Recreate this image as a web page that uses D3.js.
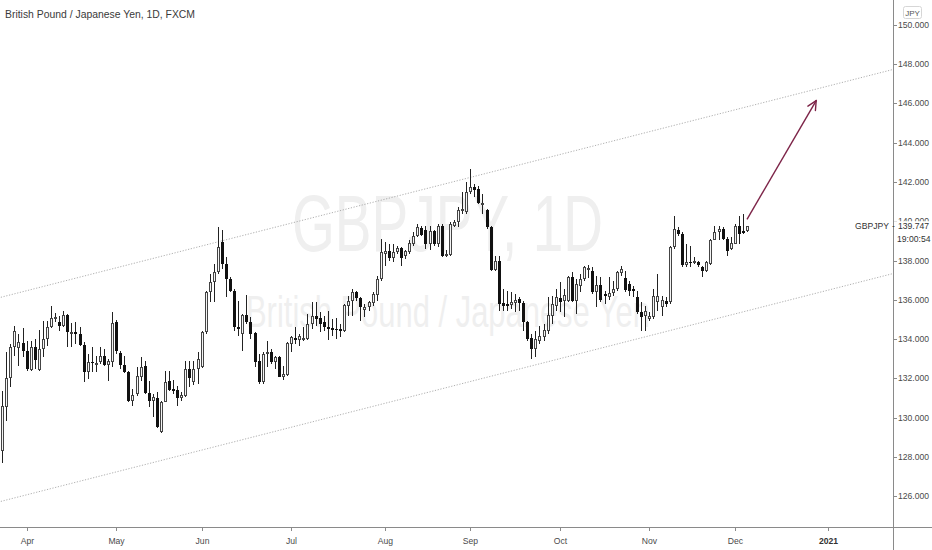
<!DOCTYPE html>
<html><head><meta charset="utf-8">
<script src="https://cdn.jsdelivr.net/npm/d3@7"></script>
<style>
html,body{margin:0;padding:0;background:#fff;}
svg{display:block;}
</style></head>
<body><svg id="c" width="932" height="550"></svg>
<script>
// ---------- DATA ----------
const symbol = "GBPJPY";
const title = "British Pound / Japanese Yen, 1D, FXCM";
const watermark1 = "GBPJPY, 1D";
const watermark2 = "British Pound / Japanese Yen";
const firstBarDate = "2020-03-24";   // daily bars, weekdays only
const lastPrice = 139.747;
const countdown = "19:00:54";

const opens = [128.31,130.52,132.01,133.58,133.54,133.80,133.41,132.44,133.58,132.44,
133.49,134.00,134.60,135.08,134.89,134.65,135.23,134.33,134.38,134.26,
133.70,132.30,132.85,132.75,132.81,133.15,132.69,132.81,134.85,133.29,
132.69,132.34,130.86,131.20,132.08,132.64,131.25,130.86,130.99,129.24,
130.81,131.84,131.45,131.42,130.99,131.11,132.47,131.79,132.47,132.56,
134.34,136.38,136.89,137.40,138.93,137.83,137.06,136.47,134.63,134.26,
135.23,134.85,134.29,132.86,131.79,133.24,133.32,132.81,133.07,132.05,
132.18,133.75,134.04,133.97,133.95,134.00,134.77,135.16,135.07,134.85,
134.63,134.56,134.51,134.51,134.43,135.70,135.92,136.42,136.08,135.48,
135.65,135.82,136.26,137.06,138.34,138.48,138.14,138.42,138.65,138.25,
138.42,138.85,139.27,139.66,139.53,138.85,139.49,138.85,139.78,138.25,
138.30,139.78,139.95,140.51,140.46,141.48,141.74,141.65,140.89,140.58,
139.73,137.52,138.00,135.82,135.79,135.75,135.82,136.04,135.82,134.85,
134.05,133.49,133.92,134.12,134.43,135.19,135.70,136.09,135.96,135.96,
137.18,135.96,136.72,137.06,137.52,137.49,136.38,136.77,136.30,136.13,
136.33,136.55,137.35,137.11,136.81,136.55,136.16,135.36,135.19,135.02,
135.11,135.87,135.65,135.96,135.87,138.68,139.56,139.36,137.79,137.91,
137.86,137.91,137.66,137.45,137.83,139.05,139.44,139.61,139.10,138.59,
138.85,139.78,139.50,139.50];
const highs = [131.37,133.32,133.75,134.68,134.26,134.57,133.92,133.92,134.00,134.46,
134.91,134.94,135.70,135.31,135.19,135.42,135.28,134.80,134.89,134.60,
133.83,133.24,133.61,133.12,133.58,133.49,132.98,135.36,134.97,133.41,
133.12,132.39,131.45,132.56,133.10,132.90,131.84,131.20,131.28,130.86,
132.39,132.39,131.91,131.62,131.28,132.90,132.86,132.90,133.32,134.43,
136.47,137.32,137.83,139.70,139.53,138.17,137.15,136.55,135.96,135.28,
136.26,135.11,134.34,133.24,133.32,133.92,133.49,133.15,133.15,132.64,
133.83,134.17,134.60,134.26,134.60,135.28,135.87,135.87,135.36,135.19,
135.45,135.02,135.07,134.77,135.79,136.21,136.55,136.47,136.13,135.79,
135.96,136.38,137.23,139.10,138.93,138.85,138.85,138.76,138.68,138.54,
139.02,139.44,139.87,139.78,139.78,139.78,139.53,139.87,139.87,138.51,
139.95,140.04,140.72,141.48,141.99,142.67,141.91,141.82,141.40,140.63,
139.78,138.25,138.25,136.55,136.47,136.38,136.30,136.13,135.96,134.94,
134.26,134.43,134.68,134.77,136.13,136.21,136.55,136.89,136.55,137.23,
137.40,137.06,137.32,137.74,137.79,137.66,137.23,137.15,136.47,137.18,
136.98,137.49,137.74,137.49,136.98,136.72,136.47,135.87,135.70,135.36,
136.55,137.32,136.21,136.13,138.76,140.29,139.70,139.44,138.85,138.76,
138.17,138.00,137.74,138.00,139.10,139.78,139.78,139.73,139.19,139.19,
139.87,140.29,140.38,139.78];
const lows = [127.70,129.84,131.54,133.15,132.64,133.07,132.39,132.39,132.47,132.39,
133.07,133.66,134.57,134.85,134.43,134.60,133.58,133.61,133.75,133.66,
131.79,131.96,132.30,132.30,132.73,132.64,131.88,132.59,133.24,132.47,
132.25,130.77,130.60,131.11,131.84,131.20,130.52,130.04,129.46,129.19,
130.77,131.37,131.20,130.60,130.86,131.06,131.54,131.67,131.71,132.52,
134.26,135.87,135.87,137.32,137.57,136.16,136.38,134.43,134.17,133.41,
134.77,134.00,132.56,131.71,131.71,132.56,132.73,132.47,132.05,131.91,
132.13,133.32,133.75,133.66,133.88,133.95,134.51,134.68,134.34,134.43,
133.95,134.17,134.00,134.09,134.34,135.19,135.19,135.96,134.94,135.11,
135.45,135.70,135.96,136.98,137.74,138.00,137.91,138.34,137.74,138.08,
138.34,138.76,139.19,139.27,138.59,138.51,138.76,138.68,138.17,138.17,
138.25,139.70,139.70,140.38,140.38,141.40,141.23,140.89,140.38,139.61,
137.49,137.49,135.45,135.45,135.45,135.53,135.36,135.45,134.43,133.92,
132.98,133.07,133.75,133.92,134.26,134.77,135.45,135.36,135.11,135.87,
135.87,135.28,136.38,136.98,137.11,136.30,135.62,135.87,135.79,135.99,
136.21,136.47,137.23,136.38,136.21,136.13,135.28,134.43,134.39,134.94,
135.02,135.45,135.19,135.62,135.79,138.59,139.27,137.66,137.66,137.66,
137.83,137.66,137.15,137.40,137.79,139.02,139.05,139.02,138.25,138.51,
138.82,138.85,139.36,139.44];
const closes = [130.60,132.01,133.61,134.40,133.83,133.41,132.47,133.58,132.93,133.49,
134.00,134.63,135.08,135.11,134.65,135.23,134.34,134.38,134.26,133.71,
132.30,132.81,132.76,132.78,133.15,132.69,132.86,134.82,133.37,132.69,
132.30,130.82,131.16,132.10,132.59,131.25,130.82,131.03,129.50,130.81,
131.83,131.42,131.37,130.99,131.15,132.47,132.01,132.47,132.98,134.34,
136.38,136.89,137.40,138.68,137.83,137.06,136.43,134.60,134.51,135.23,
134.85,134.26,132.81,131.79,133.24,133.32,132.81,133.07,132.08,132.22,
133.78,134.09,133.97,134.17,134.04,134.77,135.19,135.02,134.77,134.60,
134.51,134.46,134.46,134.43,135.74,135.92,136.38,136.08,135.65,135.65,
135.87,136.30,137.06,138.42,138.48,138.14,138.42,138.65,138.14,138.48,
138.88,139.27,139.70,139.32,138.85,139.49,138.85,139.78,138.25,138.34,
139.87,139.95,140.55,140.63,141.48,141.74,141.60,140.92,140.92,139.70,
137.52,138.00,135.79,135.70,135.70,135.87,135.99,135.82,134.85,134.00,
133.49,134.00,134.17,134.46,135.24,135.79,136.13,135.87,136.26,137.18,
135.96,136.81,137.06,137.66,137.62,136.38,136.77,135.99,136.21,136.33,
136.55,137.40,137.57,136.50,136.43,136.47,135.40,135.11,135.41,135.19,
136.21,136.21,135.99,135.79,138.68,139.61,139.36,137.79,137.91,137.86,
137.95,137.79,137.45,137.91,139.05,139.44,139.61,139.10,138.47,138.88,
139.78,139.36,139.41,139.747];

const priceTicks = [126,128,130,132,134,136,138,140,142,144,146,148,150];
const monthTicks = [
  {date:"2020-04-01", label:"Apr"}, {date:"2020-05-01", label:"May"},
  {date:"2020-06-01", label:"Jun"}, {date:"2020-07-01", label:"Jul"},
  {date:"2020-08-03", label:"Aug"}, {date:"2020-09-01", label:"Sep"},
  {date:"2020-10-01", label:"Oct"}, {date:"2020-11-02", label:"Nov"},
  {date:"2020-12-01", label:"Dec"}, {date:"2021-01-01", label:"2021", bold:true}
];
// channel lines: [date, price] anchor points
const channelUpper = [["2020-03-23", 136.09], ["2021-02-08", 148.27]];
const channelLower = [["2020-03-23", 125.69], ["2021-02-08", 137.87]];
// projection arrow: [date, price]
const arrowPts = [["2020-12-04", 140.10], ["2020-12-29", 146.15]];

// ---------- SETUP ----------
const W = 932, H = 550, plotR = 893, plotB = 527;
const svg = d3.select("#c");
const FONT = "'Liberation Sans Narrow','Arial Narrow','Liberation Sans',sans-serif";

const parse = d3.utcParse("%Y-%m-%d");
const t0 = parse(firstBarDate);
function tIndex(ds){
  const d = parse(ds);
  const sign = d >= t0 ? 1 : -1;
  const days = sign > 0 ? d3.utcDay.range(t0, d) : d3.utcDay.range(d, t0);
  const n = days.filter(x => x.getUTCDay() !== 0 && x.getUTCDay() !== 6).length;
  return sign * n;
}

const bars = opens.map((o,i)=>({i, o, h:highs[i], l:lows[i], c:closes[i]}));

const x = d3.scaleLinear().domain([0, 100]).range([2.2, 2.2 + 407]);
const y = d3.scaleLinear().domain([126, 150]).range([496, 25]);
const ly = y(lastPrice);

const defs = svg.append("defs");
defs.append("clipPath").attr("id","plot").append("rect")
  .attr("x",0).attr("y",0).attr("width",plotR).attr("height",plotB);
defs.append("clipPath").attr("id","abovelabel").append("rect")
  .attr("x",plotR+1).attr("y",0).attr("width",W-plotR).attr("height",ly-5);

// ---------- WATERMARK ----------
const wm = svg.append("g").attr("fill", "#efefef").attr("font-family", FONT);
wm.append("text").attr("x", 292).attr("y", 251).attr("font-size", 80)
  .attr("textLength", 311).attr("lengthAdjust", "spacingAndGlyphs").text(watermark1);
wm.append("text").attr("x", 246).attr("y", 327).attr("font-size", 44)
  .attr("textLength", 404).attr("lengthAdjust", "spacingAndGlyphs").text(watermark2);

// ---------- CHANNEL LINES ----------
const line = d3.line().x(d => x(tIndex(d[0]))).y(d => y(d[1]));
[channelUpper, channelLower].forEach(pts => {
  svg.append("path").attr("clip-path","url(#plot)").attr("d", line(pts))
    .attr("fill","none").attr("stroke","#9a9a9a").attr("stroke-width",0.8)
    .attr("stroke-dasharray","1.2,1.6");
});

// ---------- CANDLES ----------
const g = svg.append("g").attr("shape-rendering","crispEdges");
bars.forEach(b => {
  const cx = Math.round(x(b.i));
  g.append("line").attr("x1", cx+0.5).attr("x2", cx+0.5)
    .attr("y1", y(b.h)).attr("y2", y(b.l)).attr("stroke", "#222").attr("stroke-width",1);
  const top = Math.round(y(Math.max(b.o,b.c)));
  const bot = Math.max(top+1, Math.round(y(Math.min(b.o,b.c))));
  if (b.c >= b.o) {
    g.append("rect").attr("x", cx-0.5).attr("y", top+0.5).attr("width", 2)
      .attr("height", Math.max(1,bot-top-1)).attr("fill","#f4f4f4").attr("stroke","#444").attr("stroke-width",1);
  } else {
    g.append("rect").attr("x", cx-1).attr("y", top).attr("width", 3)
      .attr("height", bot-top).attr("fill","#111");
  }
});

// ---------- ARROW ----------
const a0 = [x(tIndex(arrowPts[0][0])), y(arrowPts[0][1])];
const a1 = [x(tIndex(arrowPts[1][0])), y(arrowPts[1][1])];
const arrowColor = "#7d2448";
svg.append("line").attr("x1",a0[0]).attr("y1",a0[1]).attr("x2",a1[0]).attr("y2",a1[1])
  .attr("stroke",arrowColor).attr("stroke-width",1.4);
(function(){
  const ang = Math.atan2(a1[1]-a0[1], a1[0]-a0[0]);
  const L = 10, sp = 0.45;
  [ang+Math.PI-sp, ang+Math.PI+sp].forEach(t=>{
    svg.append("line").attr("x1",a1[0]).attr("y1",a1[1])
      .attr("x2",a1[0]+L*Math.cos(t)).attr("y2",a1[1]+L*Math.sin(t))
      .attr("stroke",arrowColor).attr("stroke-width",1.4).attr("stroke-linecap","round");
  });
})();

// ---------- AXES ----------
svg.append("line").attr("x1",0).attr("x2",W).attr("y1",plotB+0.5).attr("y2",plotB+0.5)
  .attr("stroke","#8a8a8a");
svg.append("line").attr("x1",plotR+0.5).attr("x2",plotR+0.5).attr("y1",0).attr("y2",H)
  .attr("stroke","#8a8a8a");

const ya = svg.append("g").attr("font-family",FONT).attr("font-size",8.6).attr("fill","#4a4a4a");
priceTicks.forEach(v=>{
  const yy = Math.round(y(v));
  const hidden = Math.abs(yy - ly) < 12;   // partly covered by the last-price label
  const grp = hidden ? ya.append("g").attr("clip-path","url(#abovelabel)") : ya;
  grp.append("line").attr("x1",plotR+1).attr("x2",plotR+4).attr("y1",yy+0.5).attr("y2",yy+0.5)
    .attr("stroke","#8a8a8a");
  grp.append("text").attr("x",898).attr("y",yy+3).text(d3.format(".3f")(v));
});

const xa = svg.append("g").attr("font-family",FONT).attr("font-size",8.6).attr("fill","#4a4a4a")
  .attr("text-anchor","middle");
monthTicks.forEach(m=>{
  const xx = Math.round(x(tIndex(m.date)));
  xa.append("line").attr("x1",xx+0.5).attr("x2",xx+0.5).attr("y1",plotB+1).attr("y2",plotB+4)
    .attr("stroke","#8a8a8a");
  xa.append("text").attr("x",xx+0.5).attr("y",544).attr("font-weight", m.bold?"bold":"normal")
    .attr("fill", m.bold?"#333":"#4a4a4a").text(m.label);
});

// ---------- LAST PRICE LABEL ----------
const lp = svg.append("g").attr("font-family",FONT).attr("font-size",8.6).attr("fill","#333");
lp.append("text").attr("x",889).attr("y",ly+3).attr("text-anchor","end").text(symbol);
lp.append("text").attr("x",892).attr("y",ly+3).text("-");
lp.append("text").attr("x",898).attr("y",ly+3).text(d3.format(".3f")(lastPrice));
lp.append("text").attr("x",897).attr("y",ly+16).text(countdown);

// ---------- TITLE & CURRENCY BADGE ----------
svg.append("text").attr("x",5).attr("y",18).attr("font-family",FONT).attr("font-size",10.4)
  .attr("fill","#3a3a3a").text(title);
svg.append("rect").attr("x",903.5).attr("y",6.5).attr("width",18).attr("height",12).attr("rx",2)
  .attr("fill","#fff").attr("stroke","#d6d6d6");
svg.append("text").attr("x",912.5).attr("y",15.5).attr("text-anchor","middle").attr("font-family",FONT)
  .attr("font-size",8).attr("fill","#555").text("JPY");
</script>
</body></html>
